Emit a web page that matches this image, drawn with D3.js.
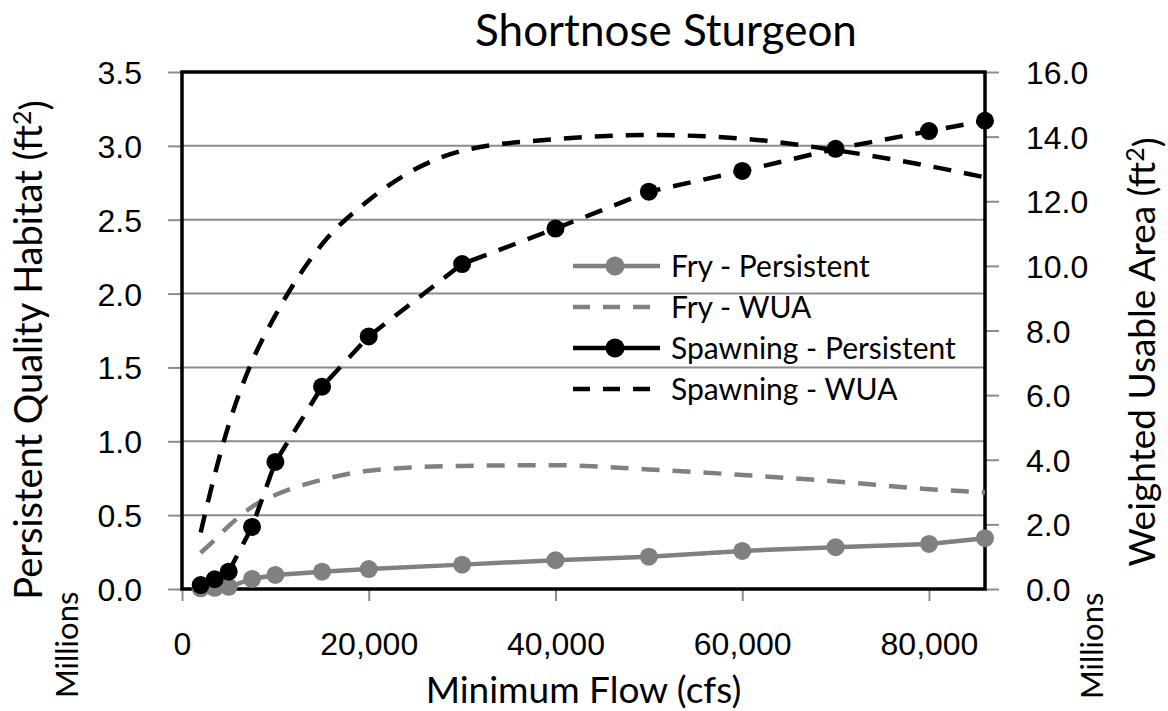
<!DOCTYPE html>
<html>
<head>
<meta charset="utf-8">
<script src="https://cdn.jsdelivr.net/npm/d3@7"></script>
<style>
  body { margin: 0; background: #fff; }
  svg { display: block; font-family: Lato, "Open Sans", sans-serif; }
</style>
</head>
<body>
<div id="chart"></div>
<script>
// minimum flow (cfs)
var flows = [2000, 3500, 5000, 7500, 10000, 15000, 20000, 30000, 40000, 50000, 60000, 70000, 80000, 86000];
// persistent quality habitat, ft2 (millions) - left axis
var fryPersistent = [0.005, 0.008, 0.015, 0.068, 0.095, 0.117, 0.135, 0.165, 0.195, 0.219, 0.258, 0.283, 0.305, 0.344];
var spawnPersistent = [0.027, 0.066, 0.117, 0.42, 0.86, 1.37, 1.71, 2.20, 2.44, 2.69, 2.83, 2.98, 3.10, 3.17];
// weighted usable area, ft2 (millions) - right axis
var fryWUA = [1.12, 1.52, 1.95, 2.54, 2.91, 3.38, 3.66, 3.81, 3.83, 3.70, 3.53, 3.33, 3.09, 2.99];
var spawnWUA = [1.75, 3.53, 5.08, 7.04, 8.47, 10.67, 12.03, 13.56, 13.92, 14.05, 13.94, 13.58, 13.09, 12.74];

var xTicks = [0, 20000, 40000, 60000, 80000];
var leftTicks = [0, 0.5, 1.0, 1.5, 2.0, 2.5, 3.0, 3.5];
var rightTicks = [0, 2, 4, 6, 8, 10, 12, 14, 16];

var seriesNames = ["Fry - Persistent", "Fry - WUA", "Spawning - Persistent", "Spawning - WUA"];

var W = 1168, H = 711,
    margin = {top: 72, right: 183, bottom: 122, left: 182},
    width = W - margin.left - margin.right,
    height = H - margin.top - margin.bottom;

var grey = "#808080", gridGrey = "#8c8c8c";

var svg = d3.select("#chart").append("svg")
    .attr("width", W)
    .attr("height", H);

var g = svg.append("g").attr("transform", "translate(" + margin.left + "," + margin.top + ")");

var x = d3.scaleLinear().domain([0, 86000]).range([0, width]),
    yL = d3.scaleLinear().domain([0, 3.5]).range([height, 0]),
    yR = d3.scaleLinear().domain([0, 16]).range([height, 0]);

// gridlines
g.append("g")
    .selectAll("line")
    .data(leftTicks)
    .enter().append("line")
    .attr("x1", 0).attr("x2", width)
    .attr("y1", function(d) { return yL(d); })
    .attr("y2", function(d) { return yL(d); })
    .attr("stroke", gridGrey)
    .attr("stroke-width", 2);

function styleAxis(sel) {
    sel.select(".domain").remove();
    sel.selectAll(".tick line").attr("stroke", gridGrey).attr("stroke-width", 2);
    sel.selectAll(".tick text").attr("fill", "#000").style("font-size", "32px");
}

g.append("g")
    .call(d3.axisLeft(yL).tickValues(leftTicks).tickFormat(d3.format(".1f")).tickSize(14).tickPadding(26))
    .call(styleAxis)
    .selectAll(".tick text").attr("dy", "0.36em");

g.append("g")
    .attr("transform", "translate(" + width + ",0)")
    .call(d3.axisRight(yR).tickValues(rightTicks).tickFormat(d3.format(".1f")).tickSize(14).tickPadding(27))
    .call(styleAxis)
    .selectAll(".tick text").attr("dy", "0.36em");

g.append("g")
    .attr("transform", "translate(0," + height + ")")
    .call(d3.axisBottom(x).tickValues(xTicks).tickFormat(d3.format(",")).tickSize(12).tickPadding(31))
    .call(styleAxis);

// plot border
g.append("rect")
    .attr("width", width).attr("height", height)
    .attr("fill", "none")
    .attr("stroke", "#000")
    .attr("stroke-width", 3.5);

var lineL = d3.line()
    .x(function(d) { return x(d[0]); })
    .y(function(d) { return yL(d[1]); });

var curveR = d3.line()
    .curve(d3.curveMonotoneX)
    .x(function(d) { return x(d[0]); })
    .y(function(d) { return yR(d[1]); });

function pairs(vals) { return flows.map(function(f, i) { return [f, vals[i]]; }); }

// spawning persistent is dashed in the plot but solid in the legend
var series = [
    {name: seriesNames[0], values: pairs(fryPersistent), color: grey, dash: null, legendDash: null, marker: true, axis: "L"},
    {name: seriesNames[1], values: pairs(fryWUA), color: grey, dash: "18,13", legendDash: "17,13", marker: false, axis: "R"},
    {name: seriesNames[2], values: pairs(spawnPersistent), color: "#000", dash: "18,13", legendDash: null, marker: true, axis: "L"},
    {name: seriesNames[3], values: pairs(spawnWUA), color: "#000", dash: "18,13", legendDash: "17,13", marker: false, axis: "R"}
];

series.forEach(function(s) {
    g.append("path")
        .attr("d", s.axis === "L" ? lineL(s.values) : curveR(s.values))
        .attr("fill", "none")
        .attr("stroke", s.color)
        .attr("stroke-width", 4.5)
        .attr("stroke-dasharray", s.dash);
    if (s.marker) {
        g.append("g").selectAll("circle")
            .data(s.values)
            .enter().append("circle")
            .attr("cx", function(d) { return x(d[0]); })
            .attr("cy", function(d) { return yL(d[1]); })
            .attr("r", 9)
            .attr("fill", s.color);
    }
});

// legend
var legend = svg.append("g").attr("transform", "translate(573,266)");
var item = legend.selectAll("g")
    .data(series)
    .enter().append("g")
    .attr("transform", function(d, i) { return "translate(0," + (i * 41) + ")"; });
item.append("line")
    .attr("x1", 0).attr("x2", 87)
    .attr("stroke", function(d) { return d.color; })
    .attr("stroke-width", 4.5)
    .attr("stroke-dasharray", function(d) { return d.legendDash; });
item.filter(function(d) { return d.marker; }).append("circle")
    .attr("cx", 42).attr("r", 9.5)
    .attr("fill", function(d) { return d.color; });
item.append("text")
    .attr("x", 98)
    .attr("dy", "0.36em")
    .style("font-size", "30px")
    .text(function(d) { return d.name; });

// titles
svg.append("text")
    .attr("x", 666).attr("y", 46)
    .attr("text-anchor", "middle")
    .style("font-size", "44px")
    .text("Shortnose Sturgeon");

svg.append("text")
    .attr("x", margin.left + width / 2).attr("y", 703)
    .attr("text-anchor", "middle")
    .style("font-size", "37px")
    .text("Minimum Flow (cfs)");

var lt = svg.append("text")
    .attr("transform", "translate(42,350) rotate(-90)")
    .attr("text-anchor", "middle")
    .style("font-size", "38px")
    .text("Persistent Quality Habitat (ft");
lt.append("tspan").attr("dy", "-0.45em").style("font-size", "25px").text("2");
lt.append("tspan").attr("dy", "0.45em").text(")");

var rt = svg.append("text")
    .attr("transform", "translate(1155,352) rotate(-90)")
    .attr("text-anchor", "middle")
    .style("font-size", "37px")
    .text("Weighted Usable Area (ft");
rt.append("tspan").attr("dy", "-0.45em").style("font-size", "25px").text("2");
rt.append("tspan").attr("dy", "0.45em").text(")");

svg.append("text")
    .attr("transform", "translate(78,698) rotate(-90)")
    .style("font-size", "31px")
    .text("Millions");

svg.append("text")
    .attr("transform", "translate(1103,699) rotate(-90)")
    .style("font-size", "31px")
    .text("Millions");
</script>
</body>
</html>
